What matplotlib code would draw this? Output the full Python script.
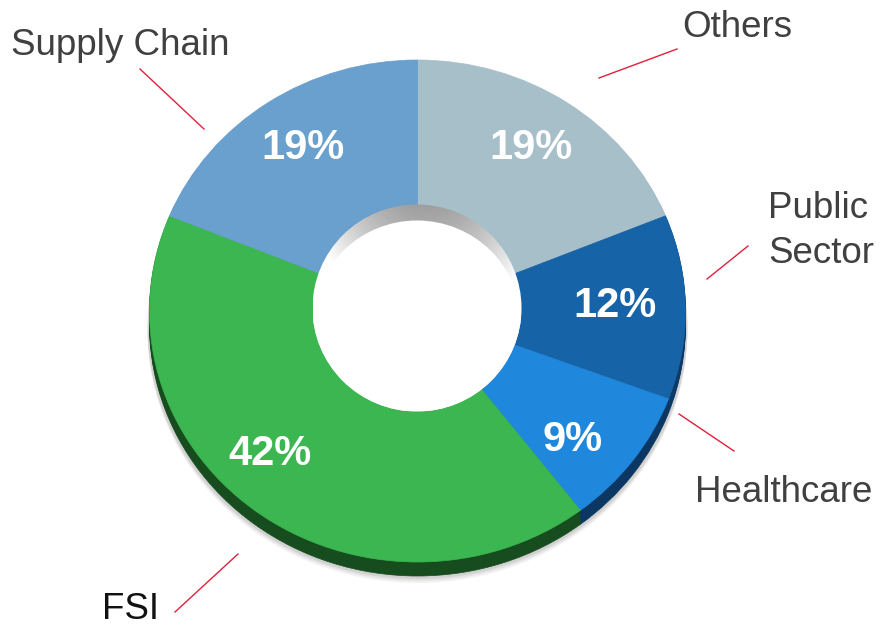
import numpy as np
import matplotlib
matplotlib.use("Agg")
import matplotlib.pyplot as plt
from matplotlib.patches import Ellipse
from matplotlib.transforms import Affine2D

plt.rcParams['font.family'] = ['Liberation Sans', 'DejaVu Sans']

# segment data, clockwise from 12 o'clock
categories = ["Others", "Public\nSector", "Healthcare", "FSI", "Supply Chain"]
shares = [19, 12, 9, 42, 19]
top_colors = ["#a6bfc9", "#1763a7", "#1f88dc", "#3bb650", "#6aa0cd"]
side_colors = ["#6d8690", "#0c3a66", "#0b3762", "#164c1e", "#3d6a90"]
label_colors = ["#404040", "#404040", "#404040", "#111111", "#404040"]

# tilted donut geometry (pixels)
CX, CY = 417.5, 311
RX, RY = 268, 251
DEPTH = 14
HOLE_CX, HOLE_CY = 417, 308
HOLE_RX, HOLE_RY = 104.5, 103.5
HOLE_DEPTH = 16

# text / leader layout (pixels)
pct_pos = [(531, 148), (615, 306), (573, 440), (270, 454), (303, 148)]
name_pos = [(682, 37), (768, 263), (695, 502), (102, 619), (11, 55)]
leaders = [((599, 78), (677, 49)), ((707, 279), (748, 246)),
           ((679, 414), (734, 451)), ((175, 612), (238, 554)),
           ((140, 69), (204, 129))]

fig = plt.figure(figsize=(8.81, 6.28), dpi=100)
ax = fig.add_axes([0, 0, 1, 1])


def disc(dy=0.0):
    return Affine2D().scale(RX, -RY).translate(CX, CY + dy) + ax.transData


# soft drop shadow under the ring
for off, a in [(DEPTH + 6, 0.05), (DEPTH + 4, 0.06), (DEPTH + 2, 0.08)]:
    ax.add_patch(Ellipse((CX, CY + off), 2 * RX + 4, 2 * RY + 2,
                         facecolor="black", alpha=a, edgecolor="none", zorder=0))

# side wall: stack of darker copies pushed down
for dy in np.linspace(DEPTH, 1, 8):
    wedges, _ = ax.pie(shares, colors=side_colors, startangle=90,
                       counterclock=False, wedgeprops=dict(linewidth=0))
    for w in wedges:
        w.set_transform(disc(dy))
        w.set_edgecolor(w.get_facecolor())
        w.set_linewidth(0.5)
        w.set_zorder(1)

# top face
wedges, _ = ax.pie(shares, colors=top_colors, startangle=90,
                   counterclock=False, wedgeprops=dict(linewidth=0))
for w in wedges:
    w.set_transform(disc())
    w.set_edgecolor(w.get_facecolor())
    w.set_linewidth(0.5)
    w.set_zorder(2)

# hole: grey inner wall with white see-through part
hole = Ellipse((HOLE_CX, HOLE_CY), 2 * HOLE_RX, 2 * HOLE_RY,
               facecolor="none", edgecolor="none", zorder=3)
ax.add_patch(hole)
gx = np.linspace(0, 1, 200)
gy = np.linspace(0, 1, 120)[:, None]
grad = 0.62 + 1.1 * (gx[None, :] - 0.55) ** 2 + 0.5 * gy
im = ax.imshow(np.clip(grad, 0, 1), cmap="gray", vmin=0, vmax=1,
               extent=(HOLE_CX - HOLE_RX, HOLE_CX + HOLE_RX,
                       HOLE_CY + HOLE_RY, HOLE_CY - HOLE_RY),
               aspect="auto", zorder=3, interpolation="bilinear")
im.set_clip_path(hole)
inner = Ellipse((HOLE_CX, HOLE_CY + HOLE_DEPTH), 2 * HOLE_RX, 2 * HOLE_RY,
                facecolor="white", edgecolor="none", zorder=4)
ax.add_patch(inner)
inner.set_clip_path(hole)

# percentage labels
for (x, y), v in zip(pct_pos, shares):
    ax.text(x, y, f"{v}%", ha="center", va="center", fontsize=30,
            fontweight="bold", color="white", zorder=6)

# category names and leader lines
for (x, y), name, c in zip(name_pos, categories, label_colors):
    ax.text(x, y, name, ha="left", va="baseline", fontsize=26.5,
            color=c, linespacing=1.36, zorder=6)
for (p0, p1) in leaders:
    ax.plot([p0[0], p1[0]], [p0[1], p1[1]], color="#e0203c", lw=1.0, zorder=6)

ax.set_aspect("auto")
ax.set_xlim(0, 881)
ax.set_ylim(628, 0)
ax.axis("off")

fig.savefig("out.png", dpi=100, facecolor="white")
